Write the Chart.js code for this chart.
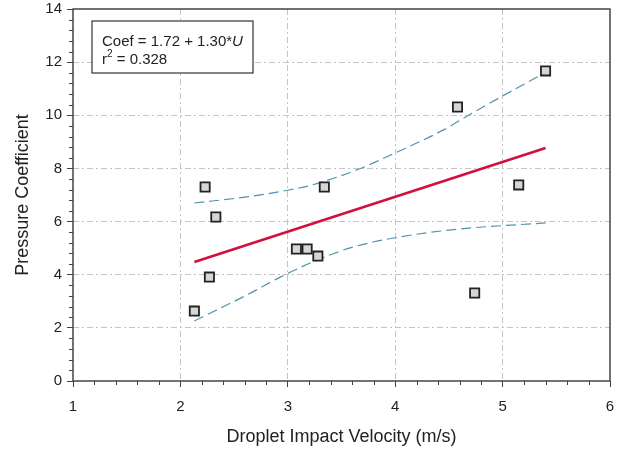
<!DOCTYPE html>
<html lang="en">
<head>
    <meta charset="UTF-8">
    <title>Pressure Coefficient vs Droplet Impact Velocity</title>
    <script src="https://cdn.jsdelivr.net/npm/chart.js"></script>
    <style>
        html, body { margin: 0; padding: 0; background: #fff; }
        #wrap { width: 623px; height: 450px; }
    </style>
</head>
<body>
    <div id="wrap"><canvas id="coefChart"></canvas></div>
    <script>
        // measured points
        const velocity = [2.13, 2.23, 2.27, 2.33, 3.08, 3.18, 3.28, 3.34, 4.58, 5.40, 5.15, 4.74];
        const pressure = [2.63, 7.30, 3.91, 6.17, 4.97, 4.97, 4.70, 7.30, 10.31, 11.67, 7.38, 3.31];

        // regression line ends
        const fitX = [2.13, 5.40];
        const fitY = [4.48, 8.77];

        // confidence band
        const upperX = [2.13, 2.62, 3.00, 3.21, 3.64, 4.02, 4.45, 4.72, 5.40];
        const upperY = [6.70, 6.93, 7.18, 7.36, 7.94, 8.62, 9.45, 10.09, 11.62];
        const lowerX = [2.13, 2.30, 2.62, 2.93, 3.21, 3.58, 4.04, 4.60, 5.40];
        const lowerY = [2.26, 2.60, 3.24, 3.91, 4.44, 5.01, 5.42, 5.72, 5.95];

        const boxLine1 = 'Coef = 1.72 + 1.30*';
        const boxVar = 'U';
        const boxLine2 = ' = 0.328';

        const toPts = (xs, ys) => xs.map((x, i) => ({ x: x, y: ys[i] }));

        const FONT = '"Liberation Sans", Arial, sans-serif';
        const bandColor = '#4f93ab';

        // frame, minor ticks and the equation box
        const extras = {
            id: 'extras',
            afterDraw(chart) {
                const ctx = chart.ctx;
                const a = chart.chartArea;
                const xs = chart.scales.x, ys = chart.scales.y;
                ctx.save();
                ctx.strokeStyle = '#444';
                ctx.lineWidth = 1.5;
                ctx.strokeRect(a.left, a.top, a.right - a.left, a.bottom - a.top);

                ctx.lineWidth = 1;
                ctx.beginPath();
                for (let v = 1; v <= 6.001; v += 0.2) {
                    if (Math.abs(v - Math.round(v)) < 0.01) continue;
                    const px = Math.round(xs.getPixelForValue(v)) + 0.5;
                    ctx.moveTo(px, a.bottom);
                    ctx.lineTo(px, a.bottom + 4);
                }
                for (let v = 0; v <= 14.001; v += 0.4) {
                    if (Math.abs(v / 2 - Math.round(v / 2)) < 0.01) continue;
                    const py = Math.round(ys.getPixelForValue(v)) + 0.5;
                    ctx.moveTo(a.left, py);
                    ctx.lineTo(a.left - 4, py);
                }
                ctx.stroke();

                // equation box
                const bx = a.left + 19, by = a.top + 12;
                ctx.fillStyle = '#fff';
                ctx.fillRect(bx, by, 161, 52);
                ctx.strokeStyle = '#333';
                ctx.lineWidth = 1.2;
                ctx.strokeRect(bx, by, 161, 52);

                ctx.fillStyle = '#222';
                ctx.textBaseline = 'alphabetic';
                ctx.font = '15px ' + FONT;
                ctx.fillText(boxLine1, bx + 10, by + 25);
                const w1 = ctx.measureText(boxLine1).width;
                ctx.font = 'italic 15px ' + FONT;
                ctx.fillText(boxVar, bx + 10 + w1, by + 25);

                ctx.font = '15px ' + FONT;
                ctx.fillText('r', bx + 10, by + 43);
                const wr = ctx.measureText('r').width;
                ctx.font = '10px ' + FONT;
                ctx.fillText('2', bx + 10 + wr, by + 36);
                const w2 = ctx.measureText('2').width;
                ctx.font = '15px ' + FONT;
                ctx.fillText(boxLine2, bx + 10 + wr + w2, by + 43);
                ctx.restore();
            }
        };

        new Chart(document.getElementById('coefChart'), {
            type: 'scatter',
            data: {
                datasets: [
                    {
                        label: 'data',
                        data: toPts(velocity, pressure),
                        pointStyle: 'rect',
                        pointRadius: 6.5,
                        pointBorderWidth: 1.8,
                        pointBorderColor: '#222',
                        pointBackgroundColor: '#d6d6d6',
                        showLine: false
                    },
                    {
                        label: 'fit',
                        data: toPts(fitX, fitY),
                        showLine: true,
                        borderColor: '#d2103c',
                        borderWidth: 2.6,
                        pointRadius: 0
                    },
                    {
                        label: 'upper',
                        data: toPts(upperX, upperY),
                        showLine: true,
                        borderColor: bandColor,
                        borderWidth: 1.2,
                        borderDash: [10, 5],
                        cubicInterpolationMode: 'monotone',
                        pointRadius: 0
                    },
                    {
                        label: 'lower',
                        data: toPts(lowerX, lowerY),
                        showLine: true,
                        borderColor: bandColor,
                        borderWidth: 1.2,
                        borderDash: [10, 5],
                        cubicInterpolationMode: 'monotone',
                        pointRadius: 0
                    }
                ]
            },
            options: {
                responsive: true,
                maintainAspectRatio: false,
                animation: false,
                layout: { padding: { top: 9, right: 13, left: 0, bottom: 0 } },
                plugins: {
                    legend: { display: false },
                    tooltip: { enabled: false }
                },
                scales: {
                    x: {
                        type: 'linear',
                        min: 1,
                        max: 6,
                        afterFit(scale) {
                            scale.height = 69;
                            scale.paddingLeft = 0;
                            scale.paddingRight = 0;
                        },
                        ticks: {
                            stepSize: 1,
                            color: '#222',
                            padding: 11,
                            font: { family: FONT, size: 15 }
                        },
                        grid: {
                            color: ctx => (ctx.tick.value === 1 || ctx.tick.value === 6) ? 'rgba(0,0,0,0)' : '#c4c4c4',
                            tickColor: '#444',
                            tickLength: 6
                        },
                        border: { display: false, dash: [6, 3, 2, 3] },
                        title: {
                            display: true,
                            text: 'Droplet Impact Velocity (m/s)',
                            color: '#222',
                            font: { family: FONT, size: 18 },
                            padding: { top: 0, bottom: 2 }
                        }
                    },
                    y: {
                        min: 0,
                        max: 14,
                        afterFit(scale) {
                            scale.width = 73;
                            scale.paddingTop = 0;
                            scale.paddingBottom = 0;
                        },
                        ticks: {
                            stepSize: 2,
                            color: '#222',
                            padding: 5,
                            font: { family: FONT, size: 15 }
                        },
                        grid: {
                            color: ctx => (ctx.tick.value === 0 || ctx.tick.value === 14) ? 'rgba(0,0,0,0)' : '#c4c4c4',
                            tickColor: '#444',
                            tickLength: 6
                        },
                        border: { display: false, dash: [6, 3, 2, 3] },
                        title: {
                            display: true,
                            text: 'Pressure Coefficient',
                            color: '#222',
                            font: { family: FONT, size: 18 },
                            padding: { top: 12, bottom: 0 }
                        }
                    }
                }
            },
            plugins: [extras]
        });
    </script>
</body>
</html>
